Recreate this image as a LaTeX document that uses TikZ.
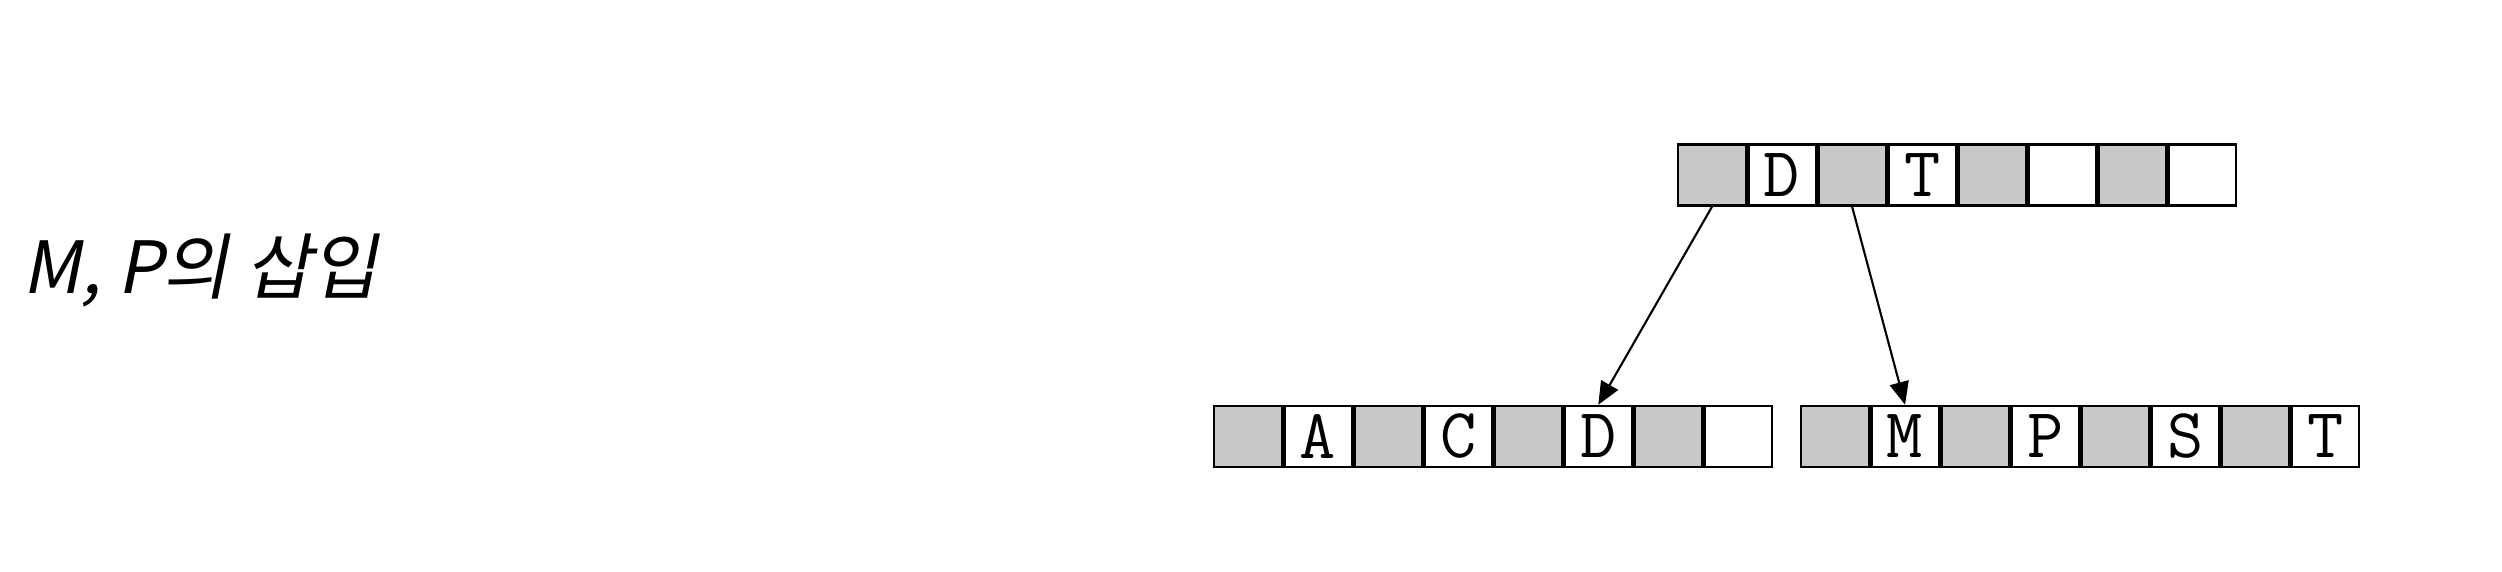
\documentclass[tikz,border=0pt]{standalone}
\usepackage{fontspec}
\usetikzlibrary{positioning, arrows.meta}
\newfontfamily\kofont[FakeSlant=0.2]{Noto Sans CJK KR}
\definecolor{keygray}{RGB}{200,200,200}

\begin{document}
\begin{tikzpicture}[
    cell/.style={draw, line width=0.7pt, minimum width=0.676cm, minimum height=0.61cm,
      inner sep=0pt, font=\ttfamily\fontsize{20pt}{20pt}\selectfont},
    ptr/.style={cell, fill=keygray},
    key/.style={cell, fill=white},
    link/.style={-{Triangle[length=6.5pt, width=5.5pt]}, line width=0.6pt}
  ]
  \useasboundingbox (0,0) rectangle (25.02,5.72);
  \node[anchor=west, font=\kofont\fontsize{20.5pt}{24pt}\selectfont, inner sep=0pt] (title) at (0.22,3.01) {M, P의 삽입};
  % root
  \node[ptr] (t0) at (17.12,3.97) {};
  \node[key, right=0pt of t0] (t1) {D};
  \node[ptr, right=0pt of t1] (t2) {};
  \node[key, right=0pt of t2] (t3) {T};
  \node[ptr, right=0pt of t3] (t4) {};
  \node[key, right=0pt of t4] (t5) {};
  \node[ptr, right=0pt of t5] (t6) {};
  \node[key, right=0pt of t6] (t7) {};
  % left leaf
  \node[ptr] (l0) at (12.48,1.355) {};
  \node[key, right=0pt of l0] (l1) {A};
  \node[ptr, right=0pt of l1] (l2) {};
  \node[key, right=0pt of l2] (l3) {C};
  \node[ptr, right=0pt of l3] (l4) {};
  \node[key, right=0pt of l4] (l5) {D};
  \node[ptr, right=0pt of l5] (l6) {};
  \node[key, right=0pt of l6] (l7) {};
  % right leaf
  \node[ptr] (r0) at (18.35,1.355) {};
  \node[key, right=0pt of r0] (r1) {M};
  \node[ptr, right=0pt of r1] (r2) {};
  \node[key, right=0pt of r2] (r3) {P};
  \node[ptr, right=0pt of r3] (r4) {};
  \node[key, right=0pt of r4] (r5) {S};
  \node[ptr, right=0pt of r5] (r6) {};
  \node[key, right=0pt of r6] (r7) {T};
  % pointers
  \draw[link] (t0.south) -- (l5.north);
  \draw[link] (t2.south) -- (r1.north);
\end{tikzpicture}
\end{document}
